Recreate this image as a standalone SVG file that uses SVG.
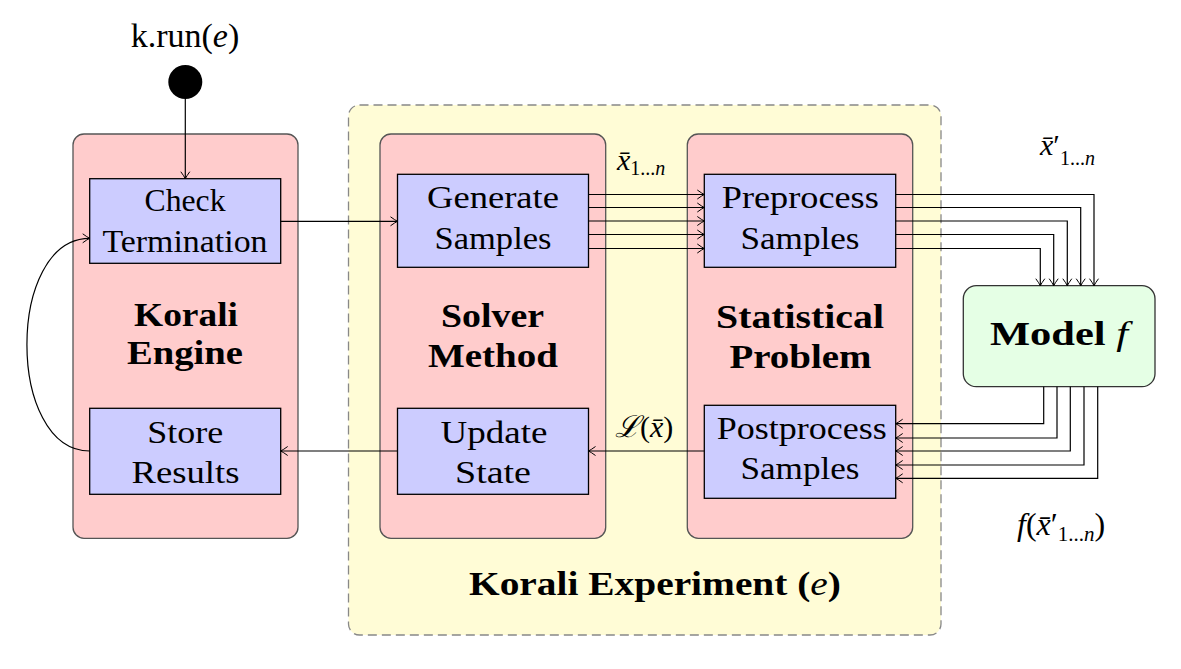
<svg xmlns="http://www.w3.org/2000/svg" width="1181" height="669" viewBox="0 0 1181 669">
<style>
.reg{font-family:"Liberation Serif","Times New Roman",serif;font-size:31px;fill:#000;text-anchor:middle}
.bold{font-family:"Liberation Serif","Times New Roman",serif;font-size:33px;font-weight:bold;fill:#000;text-anchor:middle}
.math{font-family:"Liberation Serif","DejaVu Serif",serif;fill:#000}
.outer{fill:#FFCCCC;stroke:#555;stroke-width:1.3}
.inner{fill:#CCCCFF;stroke:#000;stroke-width:1.3}
.conn{fill:none;stroke:#000;stroke-width:1.2}
</style>
<defs>
<marker id="arr" markerUnits="userSpaceOnUse" markerWidth="14" markerHeight="14" viewBox="-10 -7 12 14" refX="0" refY="0" orient="auto">
<path d="M -7 -4.5 Q -2.5 -1.2 0 0 Q -2.5 1.2 -7 4.5" fill="none" stroke="#000" stroke-width="1"/>
</marker>
</defs>
<rect width="1181" height="669" fill="#fff"/>

<g id="experiment">
<rect x="348.5" y="105" width="592.5" height="530" rx="11" fill="#FFFCD6" stroke="#888" stroke-width="1.3" stroke-dasharray="9 5"/>
<text class="bold" x="655" y="595" textLength="372" lengthAdjust="spacingAndGlyphs">Korali Experiment (<tspan font-weight="normal" font-style="italic">e</tspan>)</text>
</g>

<g id="start">
<circle cx="185.3" cy="82" r="17" fill="#000"/>
<text class="math" x="185" y="47" font-size="34" text-anchor="middle">k.run(<tspan font-style="italic">e</tspan>)</text>
</g>

<g id="engine">
<rect class="outer" x="73" y="134" width="225" height="404.3" rx="11"/>
<text class="bold" x="186" y="326" textLength="104" lengthAdjust="spacingAndGlyphs">Korali</text>
<text class="bold" x="185" y="364" textLength="116" lengthAdjust="spacingAndGlyphs">Engine</text>
</g>
<g id="check">
<rect class="inner" x="89.7" y="178.7" width="191" height="84.6"/>
<text class="reg" x="185" y="210.7" textLength="81" lengthAdjust="spacingAndGlyphs">Check</text>
<text class="reg" x="185" y="251.7" textLength="165" lengthAdjust="spacingAndGlyphs">Termination</text>
</g>
<g id="store">
<rect class="inner" x="89.7" y="408.3" width="191" height="86"/>
<text class="reg" x="185.3" y="443.3" textLength="76" lengthAdjust="spacingAndGlyphs">Store</text>
<text class="reg" x="185.5" y="483.3" textLength="108" lengthAdjust="spacingAndGlyphs">Results</text>
</g>

<g id="solver">
<rect class="outer" x="380" y="134" width="225.7" height="404.3" rx="11"/>
<text class="bold" x="492.5" y="326.7" textLength="103" lengthAdjust="spacingAndGlyphs">Solver</text>
<text class="bold" x="493" y="366.5" textLength="130" lengthAdjust="spacingAndGlyphs">Method</text>
</g>
<g id="generate">
<rect class="inner" x="397.5" y="174.3" width="191" height="93"/>
<text class="reg" x="493" y="208.3" textLength="132" lengthAdjust="spacingAndGlyphs">Generate</text>
<text class="reg" x="493" y="249.3" textLength="117" lengthAdjust="spacingAndGlyphs">Samples</text>
</g>
<g id="update">
<rect class="inner" x="397.5" y="408.3" width="191" height="86"/>
<text class="reg" x="494" y="443.3" textLength="107" lengthAdjust="spacingAndGlyphs">Update</text>
<text class="reg" x="493" y="483.3" textLength="76" lengthAdjust="spacingAndGlyphs">State</text>
</g>

<g id="problem">
<rect class="outer" x="687.3" y="134" width="225.4" height="404.3" rx="11"/>
<text class="bold" x="800" y="327.5" textLength="168" lengthAdjust="spacingAndGlyphs">Statistical</text>
<text class="bold" x="800.5" y="367.5" textLength="142" lengthAdjust="spacingAndGlyphs">Problem</text>
</g>
<g id="preprocess">
<rect class="inner" x="704.3" y="174.3" width="191.4" height="93"/>
<text class="reg" x="800.3" y="208.3" textLength="157" lengthAdjust="spacingAndGlyphs">Preprocess</text>
<text class="reg" x="800" y="249.3" textLength="119" lengthAdjust="spacingAndGlyphs">Samples</text>
</g>
<g id="postprocess">
<rect class="inner" x="704.3" y="405.3" width="191.4" height="93"/>
<text class="reg" x="801.7" y="439.3" textLength="170" lengthAdjust="spacingAndGlyphs">Postprocess</text>
<text class="reg" x="800" y="479" textLength="119" lengthAdjust="spacingAndGlyphs">Samples</text>
</g>

<g id="model">
<rect x="963.3" y="285.7" width="191.7" height="101" rx="13" fill="#E5FFE5" stroke="#333" stroke-width="1.3"/>
<text class="bold" x="1059" y="345" textLength="138" lengthAdjust="spacingAndGlyphs">Model <tspan font-weight="normal" font-style="italic">f</tspan></text>
</g>

<g id="connectors">
<path class="conn" d="M 185.3 99 V 178.7" marker-end="url(#arr)"/>
<path class="conn" d="M 280.7 221.3 H 397.5" marker-end="url(#arr)"/>
<path class="conn" d="M 588.5 194.5 H 704.3" marker-end="url(#arr)"/>
<path class="conn" d="M 588.5 207.5 H 704.3" marker-end="url(#arr)"/>
<path class="conn" d="M 588.5 221 H 704.3" marker-end="url(#arr)"/>
<path class="conn" d="M 588.5 234.5 H 704.3" marker-end="url(#arr)"/>
<path class="conn" d="M 588.5 248.5 H 704.3" marker-end="url(#arr)"/>
<path class="conn" d="M 895.7 194.5 H 1094 V 285.7" marker-end="url(#arr)"/>
<path class="conn" d="M 895.7 207.5 H 1080.7 V 285.7" marker-end="url(#arr)"/>
<path class="conn" d="M 895.7 221 H 1067.3 V 285.7" marker-end="url(#arr)"/>
<path class="conn" d="M 895.7 234.5 H 1053.7 V 285.7" marker-end="url(#arr)"/>
<path class="conn" d="M 895.7 248.5 H 1040.3 V 285.7" marker-end="url(#arr)"/>
<path class="conn" d="M 1043.7 386.7 V 423.7 H 895.7" marker-end="url(#arr)"/>
<path class="conn" d="M 1057 386.7 V 438 H 895.7" marker-end="url(#arr)"/>
<path class="conn" d="M 1070.3 386.7 V 451 H 895.7" marker-end="url(#arr)"/>
<path class="conn" d="M 1084 386.7 V 465 H 895.7" marker-end="url(#arr)"/>
<path class="conn" d="M 1097.7 386.7 V 478.3 H 895.7" marker-end="url(#arr)"/>
<path class="conn" d="M 704.3 451 H 588.5" marker-end="url(#arr)"/>
<path class="conn" d="M 397.5 451 H 280.7" marker-end="url(#arr)"/>
<path class="conn" d="M 89.7 451 C 6 451, 6 238.3, 89.7 238.3" marker-end="url(#arr)"/>
</g>

<g id="labels">
<text class="math" x="617" y="170" font-size="30" font-style="italic">x̄<tspan font-size="20" font-style="normal" dy="5">1...</tspan><tspan font-size="20" font-style="italic">n</tspan></text>
<text class="math" x="1040" y="155" font-size="30" font-style="italic">x̄<tspan font-style="normal">′</tspan><tspan font-size="20" font-style="normal" dy="10">1...</tspan><tspan font-size="20" font-style="italic">n</tspan></text>
<text class="math" x="1017" y="535" font-size="32"><tspan font-style="italic">f</tspan>(<tspan font-style="italic">x̄</tspan>′<tspan font-size="21" dy="6">1...</tspan><tspan font-size="21" font-style="italic">n</tspan><tspan dy="-6">)</tspan></text>
<text class="math" x="615" y="437" font-size="30"><tspan font-family="DejaVu Serif,serif" font-style="italic">ℒ</tspan>(<tspan font-style="italic">x̄</tspan>)</text>
</g>
</svg>
